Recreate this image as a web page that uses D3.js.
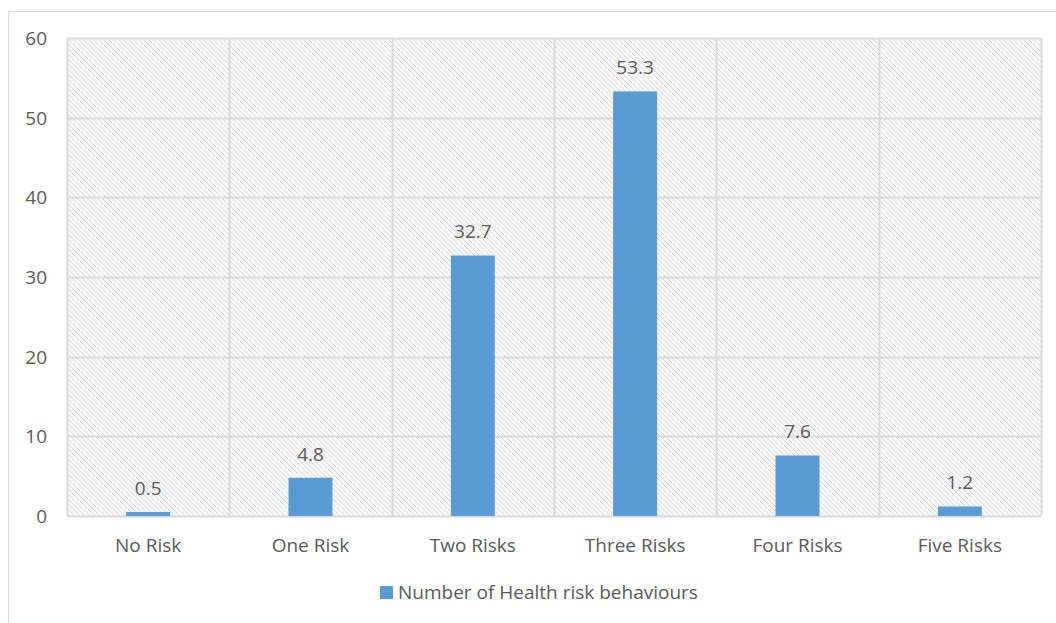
<!DOCTYPE html>
<meta charset="utf-8">
<script src="https://d3js.org/d3.v7.min.js"></script>
<style>
  body { margin: 0; background: #fff; }
  text { font-family: "Open Sans", sans-serif; fill: #595959; }
</style>
<div id="chart"></div>
<script>
  // data
  var categories = ["No Risk", "One Risk", "Two Risks", "Three Risks", "Four Risks", "Five Risks"];
  var values = [0.5, 4.8, 32.7, 53.3, 7.6, 1.2];
  var yTicks = [0, 10, 20, 30, 40, 50, 60];
  var seriesName = "Number of Health risk behaviours";

  var W = 1056, H = 623;
  var margin = {top: 38, right: 15, bottom: 107, left: 67},
      width = W - margin.left - margin.right,
      height = H - margin.top - margin.bottom;

  var svg = d3.select("#chart").append("svg")
      .attr("width", W).attr("height", H);

  // hatch pattern for plot background
  var defs = svg.append("defs");
  var pat = defs.append("pattern")
      .attr("id", "hatch")
      .attr("patternUnits", "userSpaceOnUse")
      .attr("width", 5).attr("height", 5);
  pat.append("rect").attr("width", 5).attr("height", 5).attr("fill", "#fafafa");
  pat.append("path")
      .attr("d", "M0,0 L5,5 M-1,4 L1,6 M4,-1 L6,1")
      .attr("stroke", "#d8d8d8").attr("stroke-width", 1);

  // outer chart border
  svg.append("rect")
      .attr("x", 8.5).attr("y", 11.5)
      .attr("width", W + 20).attr("height", H + 20)
      .attr("fill", "none").attr("stroke", "#d9d9d9");

  var g = svg.append("g")
      .attr("transform", "translate(" + margin.left + "," + margin.top + ")");

  var x = d3.scaleBand().domain(categories).range([0, width]).paddingInner(0).paddingOuter(0);
  var y = d3.scaleLinear().domain([0, 60]).range([height, 0]);

  g.append("rect")
      .attr("width", width).attr("height", height)
      .attr("fill", "url(#hatch)");

  // horizontal gridlines
  g.selectAll(".hgrid").data(yTicks).enter().append("line")
      .attr("x1", 0).attr("x2", width)
      .attr("y1", d => Math.round(y(d)) + 0.5).attr("y2", d => Math.round(y(d)) + 0.5)
      .attr("stroke", "#d9d9d9").attr("stroke-width", 2);

  // vertical gridlines at category boundaries
  var bounds = categories.map(c => x(c)).concat([width]);
  g.selectAll(".vgrid").data(bounds).enter().append("line")
      .attr("x1", d => Math.round(d) + 0.5).attr("x2", d => Math.round(d) + 0.5)
      .attr("y1", 0).attr("y2", height)
      .attr("stroke", "#d9d9d9").attr("stroke-width", 2);

  // bars
  var barW = 44;
  g.selectAll(".bar").data(values).enter().append("rect")
      .attr("x", (d, i) => x(categories[i]) + x.bandwidth() / 2 - barW / 2)
      .attr("y", d => y(d))
      .attr("width", barW)
      .attr("height", d => height - y(d))
      .attr("fill", "#5b9bd5");

  // data labels
  g.selectAll(".lbl").data(values).enter().append("text")
      .attr("x", (d, i) => x(categories[i]) + x.bandwidth() / 2)
      .attr("y", d => y(d) - 17)
      .attr("text-anchor", "middle")
      .style("font-size", "19px")
      .text(d => d);

  // y axis labels
  g.selectAll(".ytick").data(yTicks).enter().append("text")
      .attr("x", -20)
      .attr("y", d => y(d) + 7)
      .attr("text-anchor", "end")
      .style("font-size", "19px")
      .text(d => d);

  // x axis labels
  g.selectAll(".xtick").data(categories).enter().append("text")
      .attr("x", d => x(d) + x.bandwidth() / 2)
      .attr("y", height + 36)
      .attr("text-anchor", "middle")
      .style("font-size", "19px")
      .text(d => d);

  // legend
  var leg = svg.append("g").attr("transform", "translate(380,586)");
  leg.append("rect").attr("width", 13).attr("height", 13).attr("fill", "#5b9bd5");
  leg.append("text").attr("x", 18).attr("y", 13)
      .style("font-size", "19px")
      .text(seriesName);
</script>
